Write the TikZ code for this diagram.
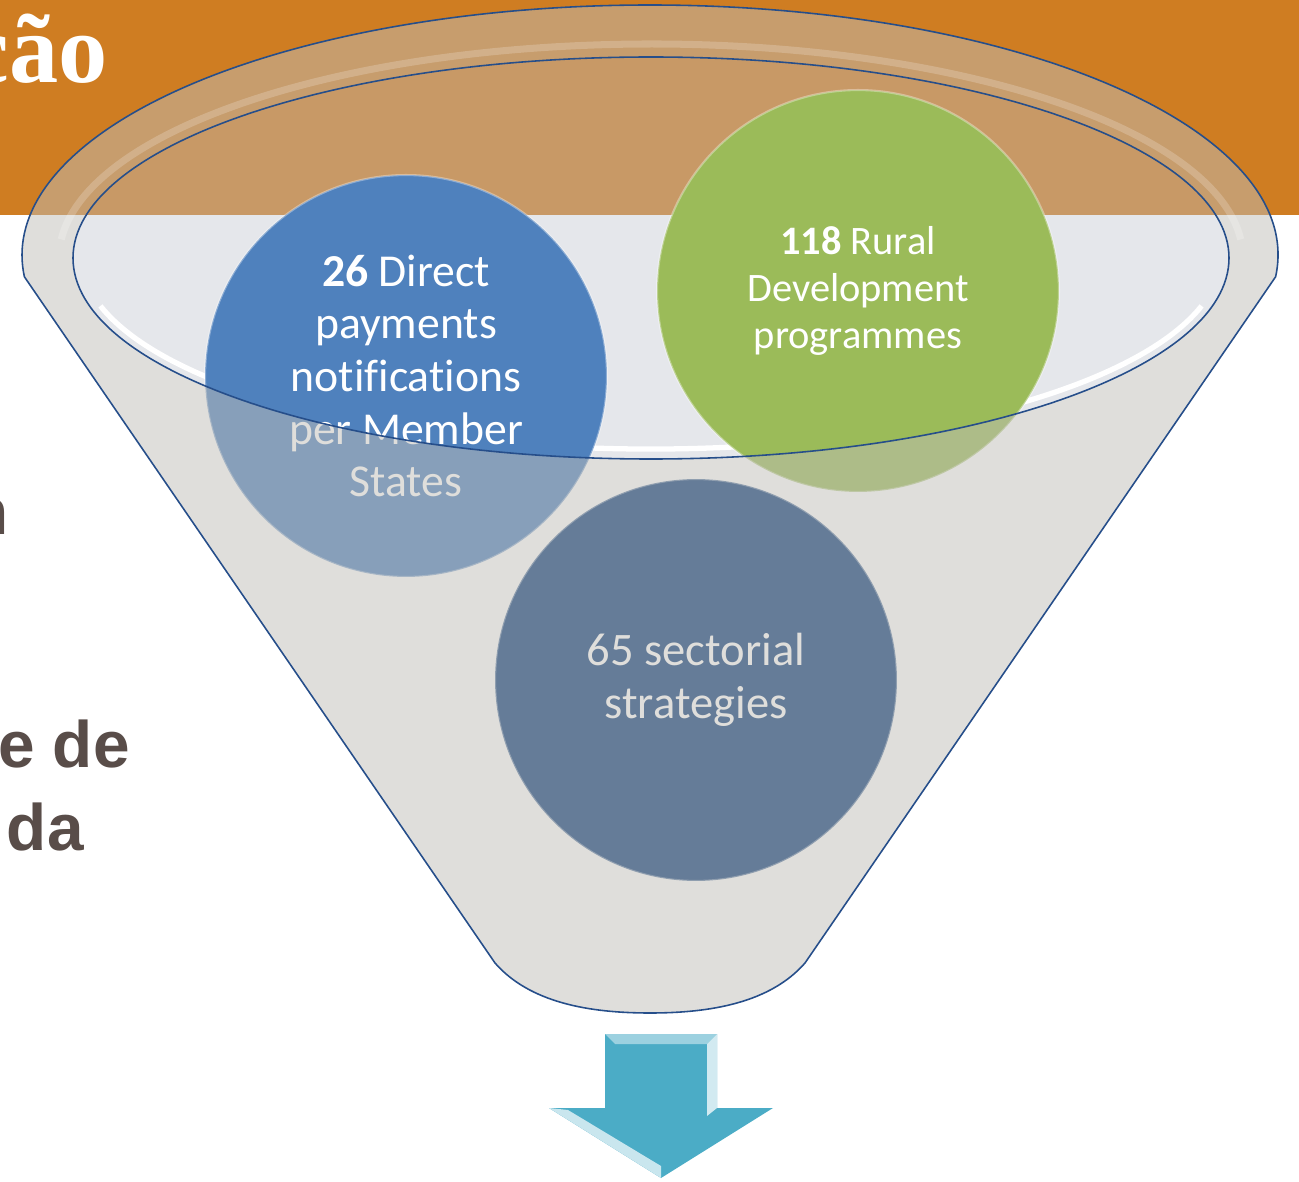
\documentclass[tikz,border=0pt]{standalone}
\usepackage{fontspec}
\setmainfont{Carlito}[Ligatures=CommonOff]
\newfontfamily\headfont{Liberation Serif}
\newfontfamily\sidefont{Liberation Sans}
\usetikzlibrary{calc}
\definecolor{banner}{RGB}{207,125,34}
\definecolor{rim}{RGB}{38,78,138}
\definecolor{mouth}{RGB}{190,195,205}
\definecolor{glass}{RGB}{192,190,184}
\definecolor{dpblue}{RGB}{79,129,189}
\definecolor{rdgreen}{RGB}{155,187,89}
\definecolor{secslate}{RGB}{10,58,120}
\definecolor{sidetext}{RGB}{89,77,73}
\definecolor{arrowblue}{RGB}{75,172,198}
\newcommand{\funnelbody}{(rimL) -- (coneL) .. controls (530,-1003) and (590,-1013) .. (650,-1013) .. controls (710,-1013) and (770,-1003) .. (coneR) -- (rimR) arc[start angle=-5,end angle=185,x radius=628,y radius=250] -- cycle}
\newcommand{\funnelmouth}{(651,-258) ellipse [x radius=578,y radius=201]}

\begin{document}
\begin{tikzpicture}[x=0.02cm,y=0.02cm,
    bubble/.style={circle,minimum size=8.04cm,inner sep=0pt,align=center,text=white,draw=white,draw opacity=0.35,line width=1.2pt},
    sidelabel/.style={anchor=base east,inner sep=0pt,text=sidetext,font=\sidefont\bfseries\fontsize{37.4}{44}\selectfont}]

    \useasboundingbox (0,0) rectangle (1299,-1182);
    \clip (0,0) rectangle (1299,-1182);
    \fill[banner] (0,0) rectangle (1299,-215);

    \node[anchor=base east,inner sep=0pt,text=white,font=\headfont\bfseries\fontsize{56}{60}\selectfont] (title) at (108,-83) {ção};
    \node[sidelabel] (sideN) at (9,-535) {n};
    \node[sidelabel] (sideDe) at (130,-767) {e de};
    \node[sidelabel] (sideDa) at (84,-850) {da};

    \coordinate (rimL) at ($(650,-255)+(185:628 and 250)$);
    \coordinate (rimR) at ($(650,-255)+(-5:628 and 250)$);
    \coordinate (coneL) at (495,-963);
    \coordinate (coneR) at (805,-963);

    \fill[mouth,fill opacity=0.4] \funnelmouth;
    \draw[white,line width=3pt] (651,-256) ++(195:570 and 193) arc[start angle=195,end angle=345,x radius=570,y radius=193];

    \node[bubble,fill=dpblue,font=\fontsize{26}{30}\selectfont] (direct) at (406,-376) {\textbf{26} Direct\\payments\\notifications\\per Member\\States};
    \node[bubble,fill=rdgreen,font=\fontsize{23}{27}\selectfont] (rural) at (858,-291) {\textbf{118} Rural\\Development\\programmes};
    \node[bubble,fill=secslate,font=\fontsize{26.5}{30}\selectfont] (sector) at (696,-680) {65 sectorial\\strategies};

    \fill[glass,fill opacity=0.5,even odd rule] \funnelbody \funnelmouth;
    \draw[white,opacity=0.2,line width=4pt] (651,-258) ++(5:592 and 214) arc[start angle=5,end angle=175,x radius=592,y radius=214];
    \draw[rim,line width=0.9pt] \funnelbody;
    \draw[rim,line width=0.9pt] \funnelmouth;

    \fill[arrowblue] (605,-1034) -- (717,-1034) -- (717,-1108) -- (773,-1108) -- (661,-1178) -- (549,-1108) -- (605,-1108) -- cycle;
    \fill[arrowblue!55!white] (605,-1034) -- (717,-1034) -- (707,-1044) -- (615,-1044) -- cycle;
    \fill[arrowblue!25!white] (717,-1034) -- (717,-1108) -- (707,-1116) -- (707,-1044) -- cycle;
    \fill[arrowblue!30!white] (549,-1108) -- (661,-1178) -- (661,-1166) -- (568,-1110) -- cycle;
\end{tikzpicture}
\end{document}
